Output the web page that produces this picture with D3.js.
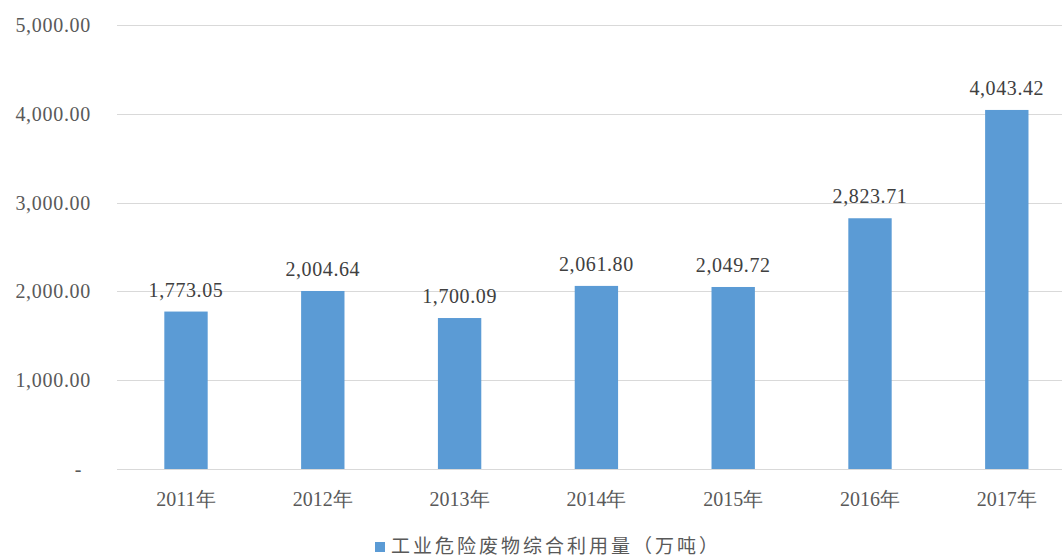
<!DOCTYPE html>
<html>
<head>
<meta charset="utf-8">
<script src="https://cdn.jsdelivr.net/npm/d3@7"></script>
<style>
  body { margin: 0; background: #fff; }
  svg { display: block; overflow: hidden; }
  .serif { font-family: "Liberation Serif", "Times New Roman", serif; }
</style>
</head>
<body>
<div class="chart"></div>
<script>
const years = ['2011年', '2012年', '2013年', '2014年', '2015年', '2016年', '2017年'];
const values = [1773.05, 2004.64, 1700.09, 2061.80, 2049.72, 2823.71, 4043.42];
const yTicks = [0, 1000, 2000, 3000, 4000, 5000];
const seriesName = '工业危险废物综合利用量（万吨）';

const w = 1062;
const h = 559;
const margin = { top: 25, left: 117.6, bottom: 469 };

const xScale = d3.scaleBand()
                 .domain(years)
                 .range([margin.left, margin.left + 7 * 136.8])
                 .paddingInner(0.683)
                 .paddingOuter(0.3415);

const yScale = d3.scaleLinear()
                 .domain([0, 5000])
                 .range([margin.bottom, margin.top]);

const fmt = d3.format(',.2f');

const svg = d3.select('.chart')
              .append('svg')
              .attr('width', w)
              .attr('height', h);

// gridlines
svg.append('g')
   .selectAll('line')
   .data(yTicks)
   .enter()
   .append('line')
   .attr('x1', 117)
   .attr('x2', w)
   .attr('y1', d => Math.round(yScale(d)) + 0.5)
   .attr('y2', d => Math.round(yScale(d)) + 0.5)
   .attr('stroke', '#d9d9d9')
   .attr('stroke-width', 1);

// y axis
const yAxis = d3.axisLeft(yScale)
                .tickValues(yTicks)
                .tickSize(0)
                .tickPadding(26)
                .tickFormat(d => d === 0 ? '-' : fmt(d));

const gy = svg.append('g')
              .attr('class', 'serif')
              .attr('transform', `translate(117, 0)`)
              .call(yAxis);
gy.select('.domain').remove();
gy.selectAll('text')
  .attr('fill', '#595959')
  .style('font-size', '20px')
  .style('font-family', '"Liberation Serif", serif')
  .style('letter-spacing', '0.7px')
  .attr('x', d => d === 0 ? -35 : -26);

// bars
svg.selectAll('rect.bar')
   .data(values)
   .enter()
   .append('rect')
   .attr('class', 'bar')
   .attr('x', (d, i) => xScale(years[i]))
   .attr('y', d => yScale(d))
   .attr('width', xScale.bandwidth())
   .attr('height', d => yScale(0) - yScale(d))
   .attr('fill', '#5b9bd5');

// data labels
svg.selectAll('text.label')
   .data(values)
   .enter()
   .append('text')
   .attr('class', 'label serif')
   .attr('x', (d, i) => xScale(years[i]) + xScale.bandwidth() / 2)
   .attr('y', d => yScale(d) - 15)
   .attr('text-anchor', 'middle')
   .attr('fill', '#404040')
   .style('font-size', '20px')
   .style('letter-spacing', '0.6px')
   .text(d => fmt(d));

// x labels
svg.selectAll('text.xlab')
   .data(years)
   .enter()
   .append('text')
   .attr('class', 'xlab serif')
   .attr('x', d => xScale(d) + xScale.bandwidth() / 2)
   .attr('y', 506)
   .attr('text-anchor', 'middle')
   .attr('fill', '#595959')
   .style('font-size', '20px')
   .text(d => d);

// legend
const legend = svg.append('g');
legend.append('rect')
      .attr('x', 375)
      .attr('y', 542)
      .attr('width', 10)
      .attr('height', 10)
      .attr('fill', '#5b9bd5');
legend.append('text')
      .attr('x', 391)
      .attr('y', 544)
      .attr('dominant-baseline', 'central')
      .attr('fill', '#595959')
      .style('font-family', '"Noto Sans CJK SC", sans-serif')
      .style('font-size', '19px')
      .style('letter-spacing', '3px')
      .text(seriesName);
</script>
</body>
</html>
